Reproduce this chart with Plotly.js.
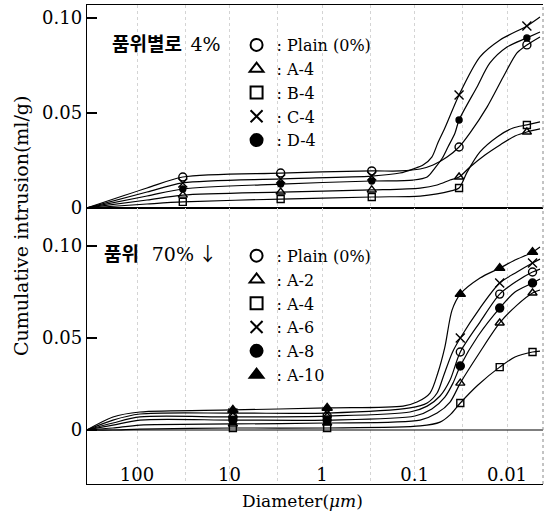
<!DOCTYPE html>
<html>
<head>
<meta charset="utf-8">
<script src="https://cdn.plot.ly/plotly-3.0.1.min.js"></script>
<style>html,body{margin:0;padding:0;background:#fff;}#chart{width:547px;height:514px;}</style>
</head>
<body>
<div id="chart"></div>
<script>
// ---------- Top panel: 품위별로 4% ----------
const topMeasX = [32, 2.8, 0.29, 0.033, 0.0061];
const topPlainMeas = [0.0163, 0.0184, 0.0195, 0.0321, 0.0858];
const topA4Meas    = [0.0068, 0.0084, 0.0095, 0.0163, 0.0400];
const topB4Meas    = [0.0032, 0.0047, 0.0058, 0.0105, 0.0437];
const topC4Meas    = [0.0132, 0.0153, 0.0168, 0.0595, 0.0958];
const topD4Meas    = [0.0100, 0.0126, 0.0142, 0.0463, 0.0895];

const topPlainCurveX = [350, 78, 32, 2.8, 0.29, 0.144, 0.087, 0.063, 0.0445, 0.033, 0.0251, 0.0164, 0.011, 0.0078, 0.0061, 0.0044];
const topPlainCurveY = [0, 0.0105, 0.0163, 0.0184, 0.0195, 0.0195, 0.0205, 0.0226, 0.0268, 0.0321, 0.0395, 0.0532, 0.0689, 0.0816, 0.0858, 0.0900];
const topC4CurveX = [350, 78, 32, 2.8, 0.29, 0.144, 0.104, 0.081, 0.065, 0.056, 0.047, 0.033, 0.0196, 0.0119, 0.0061, 0.0044];
const topC4CurveY = [0, 0.0084, 0.0132, 0.0153, 0.0168, 0.0184, 0.0205, 0.0226, 0.0268, 0.0342, 0.0421, 0.0595, 0.0795, 0.0884, 0.0958, 0.1005];
const topD4CurveX = [350, 78, 32, 2.8, 0.29, 0.104, 0.073, 0.060, 0.050, 0.0435, 0.0365, 0.033, 0.0211, 0.0153, 0.0100, 0.0061, 0.0044];
const topD4CurveY = [0, 0.0063, 0.0100, 0.0126, 0.0142, 0.0147, 0.0163, 0.0211, 0.0263, 0.0321, 0.0395, 0.0463, 0.0637, 0.0763, 0.0847, 0.0895, 0.0926];
const topA4CurveX = [350, 78, 32, 2.8, 0.29, 0.087, 0.057, 0.0413, 0.033, 0.0251, 0.0173, 0.0119, 0.0082, 0.0061, 0.0044];
const topA4CurveY = [0, 0.0042, 0.0068, 0.0084, 0.0095, 0.0105, 0.0121, 0.0147, 0.0163, 0.0216, 0.0279, 0.0332, 0.0379, 0.0400, 0.0416];
const topB4CurveX = [350, 78, 32, 2.8, 0.29, 0.087, 0.057, 0.0413, 0.033, 0.027, 0.0196, 0.0128, 0.0086, 0.0061, 0.0044];
const topB4CurveY = [0, 0.0021, 0.0032, 0.0047, 0.0058, 0.0063, 0.0074, 0.0089, 0.0105, 0.0189, 0.0295, 0.0374, 0.0421, 0.0437, 0.0453];

// ---------- Bottom panel: 품위 70% ↓ ----------
const botMeasX = [9.2, 0.88, 0.032, 0.012, 0.0053];
const botPlainMeas = [0.0071, 0.0076, 0.0424, 0.0739, 0.0859];
const botA2Meas    = [0.0033, 0.0038, 0.0255, 0.0582, 0.0745];
const botA4Meas    = [0.0011, 0.0011, 0.0147, 0.0342, 0.0424];
const botA6Meas    = [0.0092, 0.0092, 0.0500, 0.0799, 0.0908];
const botA8Meas    = [0.0054, 0.0054, 0.0348, 0.0663, 0.0799];
const botA10Meas   = [0.0109, 0.0120, 0.0739, 0.0880, 0.0967];

const botA10CurveX = [350, 182, 93, 9.2, 0.88, 0.133, 0.094, 0.068, 0.056, 0.047, 0.0393, 0.032, 0.0196, 0.012, 0.0082, 0.0053, 0.0044];
const botA10CurveY = [0, 0.0071, 0.0098, 0.0109, 0.0120, 0.0130, 0.0152, 0.0201, 0.0310, 0.0451, 0.0652, 0.0739, 0.0826, 0.0880, 0.0924, 0.0967, 0.0995];
const botA6CurveX = [350, 182, 93, 9.2, 0.88, 0.112, 0.073, 0.057, 0.049, 0.0393, 0.032, 0.0196, 0.012, 0.0078, 0.0053, 0.0044];
const botA6CurveY = [0, 0.0054, 0.0087, 0.0092, 0.0092, 0.0120, 0.0147, 0.0201, 0.0288, 0.0418, 0.0500, 0.0663, 0.0799, 0.0859, 0.0908, 0.0929];
const botPlainCurveX = [350, 182, 93, 9.2, 0.88, 0.112, 0.073, 0.053, 0.0413, 0.032, 0.0196, 0.012, 0.0078, 0.0053, 0.0044];
const botPlainCurveY = [0, 0.0038, 0.0071, 0.0071, 0.0076, 0.0098, 0.0130, 0.0185, 0.0272, 0.0424, 0.0587, 0.0739, 0.0810, 0.0859, 0.0875];
const botA8CurveX = [350, 182, 93, 9.2, 0.88, 0.099, 0.065, 0.047, 0.0384, 0.032, 0.0206, 0.012, 0.0082, 0.0053, 0.0044];
const botA8CurveY = [0, 0.0027, 0.0054, 0.0054, 0.0054, 0.0076, 0.0114, 0.0179, 0.0255, 0.0348, 0.0511, 0.0663, 0.0750, 0.0799, 0.0821];
const botA2CurveX = [350, 182, 93, 9.2, 0.88, 0.087, 0.057, 0.0413, 0.032, 0.0196, 0.012, 0.0078, 0.0053, 0.0044];
const botA2CurveY = [0, 0.0011, 0.0027, 0.0033, 0.0038, 0.0054, 0.0092, 0.0152, 0.0255, 0.0424, 0.0582, 0.0679, 0.0745, 0.0761];
const botA4CurveX = [350, 182, 93, 9.2, 0.88, 0.087, 0.053, 0.0413, 0.032, 0.0206, 0.012, 0.0082, 0.0053, 0.0044];
const botA4CurveY = [0, 0, 0.0005, 0.0011, 0.0011, 0.0022, 0.0043, 0.0082, 0.0147, 0.0245, 0.0342, 0.0397, 0.0424, 0.0429];

const xTickVals = [100, 10, 1, 0.1, 0.01];
const xTickText = ['100', '10', '1', '0.1', '0.01'];
const xMinorVals = [30, 3, 0.3, 0.03, 0.003];
const yTickVals = [0, 0.05, 0.1];
const yTickText = ['0', '0.05', '0.10'];

const topTitle = '<b>품위별로</b>&nbsp;&nbsp;<span style="font-family:DejaVu Serif">4%</span>';
const botTitle = '<b>품위</b>&nbsp;&nbsp;&nbsp;<span style="font-family:DejaVu Serif">70%</span> ↓';

const SERIF = 'DejaVu Serif, Liberation Serif, serif';

function curve(x, y, yaxis) {
  return {x: x, y: y, yaxis: yaxis, type: 'scatter', mode: 'lines', showlegend: false, hoverinfo: 'skip',
          line: {color: '#000', width: 1.2, shape: 'spline', smoothing: 0.8}};
}
function marks(x, y, yaxis, name, symbol, size, legend, group) {
  return {x: x, y: y, yaxis: yaxis, type: 'scatter', mode: 'markers', name: name, legend: legend, legendgroup: group,
          marker: {symbol: symbol, size: size, color: '#000', line: {color: '#000', width: 1.4}}};
}

const data = [
  curve(topPlainCurveX, topPlainCurveY, 'y'),
  curve(topA4CurveX, topA4CurveY, 'y'),
  curve(topB4CurveX, topB4CurveY, 'y'),
  curve(topC4CurveX, topC4CurveY, 'y'),
  curve(topD4CurveX, topD4CurveY, 'y'),
  curve(botPlainCurveX, botPlainCurveY, 'y2'),
  curve(botA2CurveX, botA2CurveY, 'y2'),
  curve(botA4CurveX, botA4CurveY, 'y2'),
  curve(botA6CurveX, botA6CurveY, 'y2'),
  curve(botA8CurveX, botA8CurveY, 'y2'),
  curve(botA10CurveX, botA10CurveY, 'y2'),
  marks(topMeasX, topPlainMeas, 'y', ': Plain (0%)', 'circle-open', 8, 'legend', 't1'),
  marks(topMeasX, topA4Meas, 'y', ': A-4', 'triangle-up-open', 8, 'legend', 't2'),
  marks(topMeasX, topB4Meas, 'y', ': B-4', 'square-open', 7, 'legend', 't3'),
  marks(topMeasX, topC4Meas, 'y', ': C-4', 'x-thin-open', 9, 'legend', 't4'),
  marks(topMeasX, topD4Meas, 'y', ': D-4', 'circle', 6, 'legend', 't5'),
  marks(botMeasX, botPlainMeas, 'y2', ': Plain (0%)', 'circle-open', 8, 'legend2', 'b1'),
  marks(botMeasX, botA2Meas, 'y2', ': A-2', 'triangle-up-open', 8, 'legend2', 'b2'),
  marks(botMeasX, botA4Meas, 'y2', ': A-4', 'square-open', 7, 'legend2', 'b3'),
  marks(botMeasX, botA6Meas, 'y2', ': A-6', 'x-thin-open', 9, 'legend2', 'b4'),
  marks(botMeasX, botA8Meas, 'y2', ': A-8', 'circle', 8, 'legend2', 'b5'),
  marks(botMeasX, botA10Meas, 'y2', ': A-10', 'triangle-up', 9, 'legend2', 'b6')
];

const yCommon = {
  tickvals: yTickVals, ticktext: yTickText, ticks: 'inside', ticklen: 10, tickcolor: '#000', tickwidth: 1.2,
  showline: true, linecolor: '#000', linewidth: 1.2, showgrid: false, zeroline: false,
  tickfont: {family: SERIF, size: 18, color: '#000'}, anchor: 'x', fixedrange: true
};

const legendCommon = {
  xanchor: 'left', yanchor: 'top', bgcolor: 'rgba(0,0,0,0)', borderwidth: 0, itemsizing: 'constant',
  font: {family: SERIF, size: 16, color: '#000'}, tracegroupgap: 0, itemclick: false, itemdoubleclick: false
};

const layout = {
  width: 547, height: 514,
  margin: {l: 87, r: 4, t: 5, b: 30},
  paper_bgcolor: '#fff', plot_bgcolor: '#fff',
  showlegend: true,
  xaxis: {
    type: 'log', range: [2.541, -2.389], anchor: 'y2', domain: [0, 1],
    tickvals: xTickVals, ticktext: xTickText, ticks: '', ticklabelposition: 'inside',
    tickfont: {family: SERIF, size: 18, color: '#000'},
    showline: true, linecolor: '#000', linewidth: 1.2, mirror: 'all',
    showgrid: true, gridcolor: '#d4d4d4', griddash: 'dot', gridwidth: 1,
    minor: {tickvals: xMinorVals, showgrid: true, gridcolor: '#d4d4d4', griddash: 'dot', gridwidth: 1},
    zeroline: false, fixedrange: true
  },
  yaxis: Object.assign({}, yCommon, {domain: [0.5762, 1], range: [0, 0.1068]}),
  yaxis2: Object.assign({}, yCommon, {domain: [0, 0.5762], range: [-0.02935, 0.1207]}),
  legend: Object.assign({}, legendCommon, {x: 0.328, y: 0.952}),
  legend2: Object.assign({}, legendCommon, {x: 0.328, y: 0.512}),
  shapes: [
    {type: 'line', xref: 'paper', x0: 0, x1: 1, yref: 'y2', y0: 0, y1: 0, line: {color: '#000', width: 1.2}},
    {type: 'line', xref: 'paper', x0: 1, x1: 1, yref: 'paper', y0: 0, y1: 1, line: {color: '#888', width: 1, dash: 'dot'}}
  ],
  annotations: [
    {text: topTitle, xref: 'paper', yref: 'paper', x: 0.0504, y: 0.9207, xanchor: 'left', yanchor: 'middle', showarrow: false,
     font: {family: 'Noto Sans CJK KR', size: 19, color: '#000'}},
    {text: botTitle, xref: 'paper', yref: 'paper', x: 0.033, y: 0.4843, xanchor: 'left', yanchor: 'middle', showarrow: false,
     font: {family: 'Noto Sans CJK KR', size: 19, color: '#000'}},
    {text: 'Cumulative intrusion(ml/g)', xref: 'paper', yref: 'paper', x: -0.1447, y: 0.5386, xanchor: 'center', yanchor: 'middle',
     textangle: -90, showarrow: false, font: {family: SERIF, size: 19, color: '#000'}},
    {text: 'Diameter(<i>μm</i>)', xref: 'paper', yref: 'paper', x: 0.4715, y: -0.0355, xanchor: 'center', yanchor: 'middle',
     showarrow: false, font: {family: SERIF, size: 17, color: '#000'}}
  ]
};

Plotly.newPlot('chart', data, layout, {staticPlot: true, displayModeBar: false});
</script>
</body>
</html>
